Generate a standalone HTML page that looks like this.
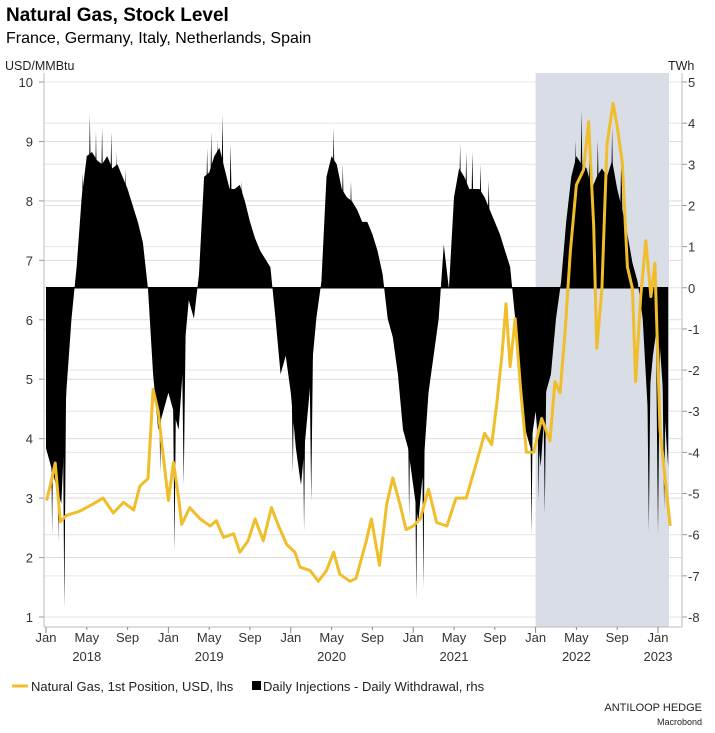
<!DOCTYPE html>
<html><head><meta charset="utf-8">
<style>
body{margin:0;background:#fff;font-family:"Liberation Sans",sans-serif;}
#wrap{position:relative;width:715px;height:733px;overflow:hidden;}
</style></head>
<body>
<div id="wrap">
<svg id="chart" width="715" height="733" xmlns="http://www.w3.org/2000/svg" font-family="Liberation Sans, sans-serif">
<text x="6" y="21" font-size="19" font-weight="bold" fill="#000">Natural Gas, Stock Level</text>
<text x="6" y="43" font-size="16" fill="#000">France, Germany, Italy, Netherlands, Spain</text>
<text x="5" y="70" font-size="12.5" fill="#222">USD/MMBtu</text>
<text x="668" y="70" font-size="12.5" fill="#222">TWh</text>
<g id="grid"></g>
<rect id="shade" fill="#d9dde5"></rect>
<g id="grid2"></g>
<g id="inj"></g>
<g id="gas"></g>
<g id="axes"></g>
<g>
<line x1="12" y1="686" x2="28" y2="686" stroke="#f0bd2b" stroke-width="3"/>
<text x="31" y="691" font-size="13" fill="#222">Natural Gas, 1st Position, USD, lhs</text>
<rect x="252" y="681" width="9" height="9" fill="#000"/>
<text x="263" y="691" font-size="13" fill="#222">Daily Injections - Daily Withdrawal, rhs</text>
</g>
<text x="702" y="711" font-size="11" text-anchor="end" fill="#222">ANTILOOP HEDGE</text>
<text x="702" y="725" font-size="9" text-anchor="end" fill="#222">Macrobond</text>
</svg>
</div>
<script>
// Gas price (USD/MMBtu): months since Jan 2018, values
const gasT=[0.06,0.4,0.9,1.4,2.0,3.3,4.6,5.6,6.6,7.6,8.6,9.2,10.0,10.5,11.0,11.5,12.0,12.5,13.0,13.3,14.1,15.1,16.1,16.7,17.4,18.4,19.0,19.8,20.5,21.3,22.1,22.8,23.6,24.4,24.9,25.9,26.7,27.5,28.2,28.8,29.8,30.4,31.4,31.9,32.7,33.4,34.0,34.7,35.3,36.0,36.7,37.5,38.3,39.3,40.2,41.2,42.2,43.0,43.7,44.2,44.7,45.1,45.5,46.0,46.5,47.1,47.8,48.6,49.4,49.9,50.4,50.9,51.4,52.0,52.7,53.2,53.7,54.0,54.5,55.0,55.6,56.0,56.5,57.0,57.5,57.8,58.3,58.8,59.3,59.7,60.2,60.8,61.2];
const gasV=[2.96,3.2,3.59,2.6,2.71,2.78,2.9,3.0,2.75,2.93,2.8,3.2,3.33,4.83,4.46,3.7,2.96,3.6,3.0,2.56,2.84,2.65,2.53,2.62,2.34,2.4,2.09,2.28,2.65,2.28,2.84,2.53,2.22,2.09,1.84,1.78,1.6,1.78,2.09,1.72,1.6,1.65,2.28,2.65,1.87,2.9,3.34,2.9,2.47,2.53,2.65,3.15,2.59,2.53,3.0,3.0,3.59,4.09,3.9,4.59,5.4,6.27,5.21,6.02,4.9,3.77,3.77,4.34,3.96,4.96,4.77,5.83,7.14,8.27,8.52,9.33,7.58,5.52,6.52,8.95,9.64,9.26,8.64,6.89,6.52,4.96,6.39,7.33,6.39,6.95,4.15,3.15,2.53];
// Injections - withdrawals (TWh), half-month steps from Jan 2018
const injV=[-3.9,-4.35,-4.8,-5.25,-2.5,-0.75,0.5,2.2,3.2,3.3,3.1,3.0,3.2,2.9,3.0,2.7,2.4,2.0,1.6,1.1,-0.03,-2.1,-3.45,-3.0,-2.55,-3.0,-3.45,-1.65,-0.3,-0.75,0.33,2.7,2.8,3.2,3.4,2.9,2.4,2.4,2.5,2.1,1.6,1.2,0.9,0.7,0.5,-0.75,-2.1,-1.65,-2.55,-3.9,-4.8,-3.45,-2.1,-0.75,0.15,2.7,3.2,3.0,2.4,2.2,2.1,1.9,1.6,1.6,1.3,0.9,0.33,-0.75,-1.2,-2.1,-3.45,-3.9,-4.8,-5.7,-4.35,-2.55,-1.65,-0.75,1.05,-0.03,2.2,2.9,2.7,2.4,2.4,2.4,2.2,1.9,1.6,1.3,0.9,0.51,-0.75,-2.55,-3.45,-3.9,-3.0,-4.35,-2.55,-2.1,-0.75,0.15,1.6,2.7,3.2,3.0,2.9,2.4,2.7,2.9,2.7,3.1,2.4,1.9,1.3,0.6,0.15,-0.75,-3.0,-1.65,-0.75,-2.55,-4.35];
// Spikes (month, TWh)
const spikeT=[1.8,0.6,12.6,25.3,36.3,37.0,4.3,5.5,17.3,16.2,28.2,40.6,41.8,52.5,55.5,48.9,47.6,60.0,59.1,11.2,24.9,53.3,4.0,6.4,18.1,3.6,4.9,6.9,7.8,15.8,16.8,19.2,27.8,29.1,29.9,41.2,42.6,43.4,51.9,54.1,56.4,1.2,13.5,24.2,26.0,35.6,48.3,60.6];
const spikeV=[-7.8,-6.0,-6.4,-5.9,-7.6,-7.3,4.2,3.9,4.2,3.8,3.9,3.5,3.3,4.3,3.9,-5.5,-6.0,-6.0,-5.9,-4.5,-4.7,4.0,3.3,3.8,3.5,2.8,3.8,3.3,2.9,3.4,3.6,2.6,3.0,3.0,2.6,3.3,3.0,2.6,3.6,3.6,3.2,-6.2,-4.8,-4.5,-5.2,-5.6,-5.2,-5.4];
const leftTicks=[1,2,3,4,5,6,7,8,9,10];
const rightTicks=[-8,-7,-6,-5,-4,-3,-2,-1,0,1,2,3,4,5];
const monthTicks=[0,4,8,12,16,20,24,28,32,36,40,44,48,52,56,60];
const monthLabels=["Jan","May","Sep","Jan","May","Sep","Jan","May","Sep","Jan","May","Sep","Jan","May","Sep","Jan"];
const yearLabels=["2018","2019","2020","2021","2022","2023"];
const yearPos=[4,16,28,40,52,60];

const NS="http://www.w3.org/2000/svg";
const X0=44,X1=682,YT=82,YB=617,AXB=627;
const xs=t=>46+t*10.2;
const yl=v=>YT+(10-v)*(YB-YT)/9;
const yr=v=>YT+(5-v)*(YB-YT)/13;
function mk(tag,parent,attrs){const e=document.createElementNS(NS,tag);for(const k in attrs)e.setAttribute(k,attrs[k]);parent.appendChild(e);return e;}
const grid=document.getElementById('grid'),axes=document.getElementById('axes');
leftTicks.forEach(v=>{
 const l=mk('line',grid,{x1:X0,x2:X1,y1:yl(v),y2:yl(v),stroke:'#dcdcdc','stroke-width':1});
 
 
 mk('line',axes,{x1:X0-5,x2:X0,y1:yl(v),y2:yl(v),stroke:'#999'});
 const t=mk('text',axes,{x:X0-11,y:yl(v)+5,'font-size':13,'text-anchor':'end',fill:'#333'});t.textContent=v;
 
 
});
rightTicks.forEach(v=>{
 const l=mk('line',grid,{x1:X0,x2:X1,y1:yr(v),y2:yr(v),stroke:'#e4e4e4','stroke-width':1});
 
 
 mk('line',axes,{x1:X1,x2:X1+5,y1:yr(v),y2:yr(v),stroke:'#999'});
 const t=mk('text',axes,{x:X1+6,y:yr(v)+5,'font-size':13,fill:'#333'});t.textContent=v;
 
 
});
const sh=document.getElementById('shade');
sh.setAttribute('x',xs(48));sh.setAttribute('y',73);sh.setAttribute('width',669-xs(48));sh.setAttribute('height',AXB-73);
mk('line',axes,{x1:X0,x2:X0,y1:73,y2:AXB,stroke:'#bbb'});
mk('line',axes,{x1:X1,x2:X1,y1:73,y2:AXB,stroke:'#bbb'});
mk('line',axes,{x1:X0,x2:X1,y1:AXB,y2:AXB,stroke:'#bbb'});
monthTicks.forEach((m,i)=>{
 const x=xs(m);
 mk('line',axes,{x1:x,x2:x,y1:AXB,y2:AXB+(m%12===0?6:3),stroke:'#888'});
 const t=mk('text',axes,{x:x,y:642,'font-size':13,'text-anchor':'middle',fill:'#333'});t.textContent=monthLabels[i];
 
 
});
yearLabels.forEach((y,i)=>{
 const t=mk('text',axes,{x:xs(yearPos[i]),y:661,'font-size':13,'text-anchor':'middle',fill:'#333'});t.textContent=y;
 
 
});
// injections area
const inj=document.getElementById('inj');
const y0=yr(0);
let d='M'+xs(0)+','+y0;
injV.forEach((v,i)=>{d+=' L'+xs(i*0.5).toFixed(1)+','+yr(v).toFixed(1);});
d+=' L'+xs((injV.length-1)*0.5)+','+y0+' Z';
const area=mk('path',inj,{d:d,fill:'#000'});


spikeT.forEach((t,i)=>{
 const s=mk('path',inj,{d:'M'+(xs(t)-2.5)+','+y0+' L'+xs(t)+','+yr(spikeV[i])+' L'+(xs(t)+2.5)+','+y0+' Z',fill:'#000'});
 
 
});
mk('line',inj,{x1:xs(0),x2:xs(61),y1:y0,y2:y0,stroke:'#000','stroke-width':1.5});
// gas line
const gas=document.getElementById('gas');
const pts=gasT.map((t,i)=>xs(t).toFixed(1)+','+yl(gasV[i]).toFixed(1)).join(' ');
const pl=mk('polyline',gas,{points:pts,fill:'none',stroke:'#f0bd2b','stroke-width':3,'stroke-linejoin':'round'});


</script>
</body></html>
